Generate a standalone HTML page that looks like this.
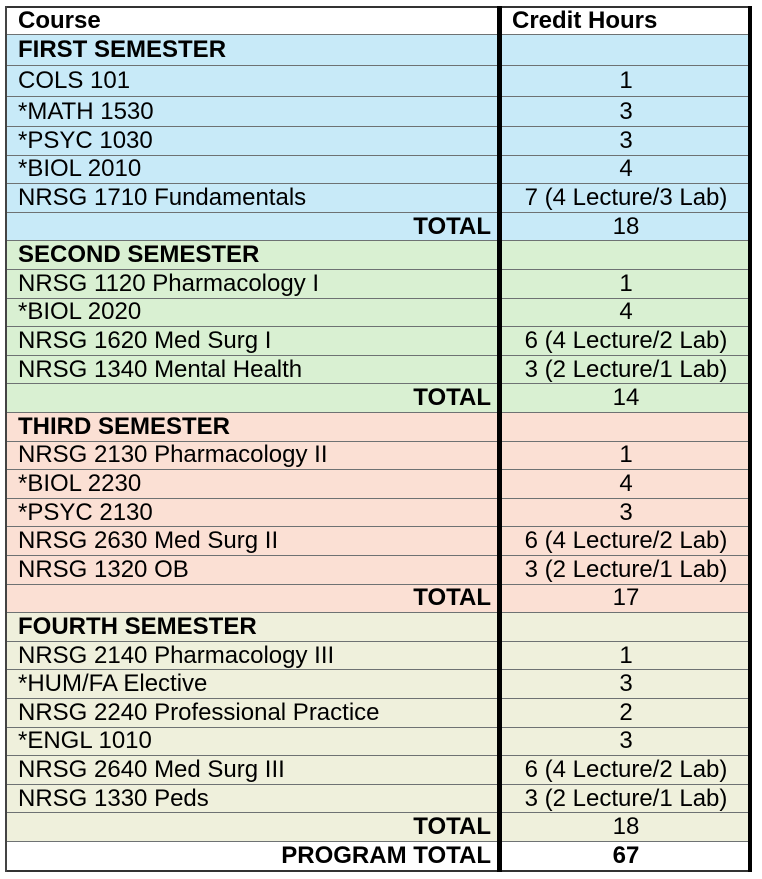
<!DOCTYPE html>
<html><head><style>
body{margin:0;width:762px;height:879px;background:#fff;position:relative;overflow:hidden;font-family:"Liberation Sans",sans-serif;font-size:24px;color:#000}
.r{position:absolute;left:6px;width:745px;border-bottom:2.5px solid #6e7273;box-sizing:border-box}
.c1{position:absolute;left:12px;top:0;bottom:0;display:flex;align-items:center;white-space:nowrap}
.c1r{position:absolute;right:260px;top:0;bottom:0;display:flex;align-items:center;font-weight:bold;white-space:nowrap}
.c2{position:absolute;left:495px;width:250px;top:0;bottom:0;display:flex;align-items:center;justify-content:center;white-space:nowrap}
.b{font-weight:bold}
.hd{font-family:"Liberation Sans Narrow","Liberation Sans",sans-serif;font-weight:bold;font-size:24px}
</style></head><body>
<div id="t"></div>
<script>
const rows=[
["Course","Credit Hours","#fff","h"],
["FIRST SEMESTER","","#c8eaf8","b"],
["COLS 101","1","#c8eaf8"],
["*MATH 1530","3","#c8eaf8"],
["*PSYC 1030","3","#c8eaf8"],
["*BIOL 2010","4","#c8eaf8"],
["NRSG 1710 Fundamentals","7 (4 Lecture/3 Lab)","#c8eaf8"],
["TOTAL","18","#c8eaf8","t"],
["SECOND SEMESTER","","#d9f0d2","b"],
["NRSG 1120 Pharmacology I","1","#d9f0d2"],
["*BIOL 2020","4","#d9f0d2"],
["NRSG 1620 Med Surg I","6 (4 Lecture/2 Lab)","#d9f0d2"],
["NRSG 1340 Mental Health","3 (2 Lecture/1 Lab)","#d9f0d2"],
["TOTAL","14","#d9f0d2","t"],
["THIRD SEMESTER","","#fbe0d4","b"],
["NRSG 2130 Pharmacology II","1","#fbe0d4"],
["*BIOL 2230","4","#fbe0d4"],
["*PSYC 2130","3","#fbe0d4"],
["NRSG 2630 Med Surg II","6 (4 Lecture/2 Lab)","#fbe0d4"],
["NRSG 1320 OB","3 (2 Lecture/1 Lab)","#fbe0d4"],
["TOTAL","17","#fbe0d4","t"],
["FOURTH SEMESTER","","#eff0dc","b"],
["NRSG 2140 Pharmacology III","1","#eff0dc"],
["*HUM/FA Elective","3","#eff0dc"],
["NRSG 2240 Professional Practice","2","#eff0dc"],
["*ENGL 1010","3","#eff0dc"],
["NRSG 2640 Med Surg III","6 (4 Lecture/2 Lab)","#eff0dc"],
["NRSG 1330 Peds","3 (2 Lecture/1 Lab)","#eff0dc"],
["TOTAL","18","#eff0dc","t"],
["PROGRAM TOTAL","67","#fff","p"]];
const tops=[7,35,66,97,127];
for(let i=5;i<=rows.length;i++)tops.push(127+(i-4)*28.6);
let h='';
rows.forEach((r,i)=>{
 const y=tops[i],ht=tops[i+1]-y;
 const k=r[3];
 let left;
 if(k==='h') left=`<div class="c1 hd">${r[0]}</div>`;
 else if(k==='t'||k==='p') left=`<div class="c1r">${r[0]}</div>`;
 else left=`<div class="c1${k?' b':''}">${r[0]}</div>`;
 let right = k==='h' ? `<div class="c1 hd" style="left:506px">${r[1]}</div>` : `<div class="c2${k==='p'?' b':''}">${r[1]}</div>`;
 h+=`<div class="r" style="top:${y}px;height:${ht+1}px;background:${r[2]};${i==rows.length-1?'border-bottom:2px solid #333;':''}">${left}${right}</div>`;
});
h+=`<div style="position:absolute;left:6px;top:6px;width:745px;height:2px;background:#333"></div>`;
h+=`<div style="position:absolute;left:5px;top:6px;width:2px;height:866px;background:#444"></div>`;
h+=`<div style="position:absolute;left:497px;top:6px;width:5px;height:866px;background:#000"></div>`;
h+=`<div style="position:absolute;left:748px;top:6px;width:4px;height:866px;background:#000"></div>`;
document.getElementById('t').innerHTML=h;
</script>
</body></html>
